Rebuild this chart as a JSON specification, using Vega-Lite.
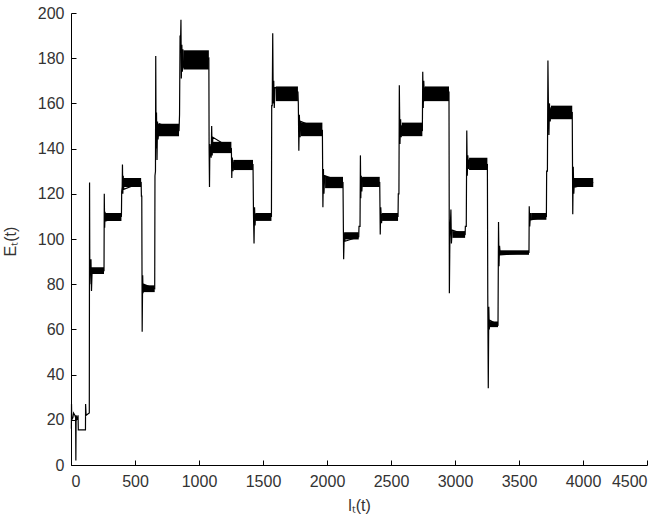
{
  "$schema": "https://vega.github.io/schema/vega-lite/v6.json",
  "width": 576,
  "height": 452,
  "autosize": "none",
  "padding": {"left": 71, "top": 13, "right": 19, "bottom": 58},
  "background": "white",
  "config": {
    "view": {"stroke": null},
    "axis": {
      "grid": false,
      "domainColor": "#000000",
      "tickColor": "#000000",
      "labelColor": "#333333",
      "labelFont": "Liberation Sans",
      "labelFontSize": 16,
      "titleFont": "Liberation Sans",
      "titleFontSize": 16,
      "titleFontWeight": "normal",
      "titleColor": "#333333"
    }
  },
  "datasets": {
    "sig": [
      {"x": 3, "y": 16}, {"x": 4, "y": 27}, {"x": 6, "y": 20}, {"x": 15, "y": 21}, {"x": 20, "y": 23}, {"x": 30, "y": 22}, {"x": 36, "y": 21}, {"x": 38, "y": 2}, {"x": 40, "y": 22}, {"x": 48, "y": 20}, {"x": 55, "y": 22}, {"x": 57, "y": 15.5}, {"x": 113, "y": 15.5}, {"x": 114, "y": 27}, {"x": 118, "y": 22}, {"x": 143, "y": 23},
      {"x": 145, "y": 125}, {"x": 147, "y": 80}, {"x": 150, "y": 88}, {"x": 153, "y": 85}, {"x": 156, "y": 91}, {"x": 160, "y": 77}, {"x": 165, "y": 86}, {"x": 258, "y": 86},
      {"x": 260, "y": 120}, {"x": 263, "y": 105}, {"x": 266, "y": 112}, {"x": 270, "y": 108}, {"x": 394, "y": 110},
      {"x": 396, "y": 121}, {"x": 400, "y": 123}, {"x": 402, "y": 133}, {"x": 405, "y": 120}, {"x": 408, "y": 128}, {"x": 412, "y": 122}, {"x": 548, "y": 125},
      {"x": 550, "y": 119}, {"x": 553, "y": 119}, {"x": 556, "y": 59}, {"x": 560, "y": 84}, {"x": 563, "y": 76}, {"x": 567, "y": 80}, {"x": 654, "y": 78},
      {"x": 656, "y": 128}, {"x": 660, "y": 130}, {"x": 662, "y": 181}, {"x": 665, "y": 140}, {"x": 668, "y": 156}, {"x": 672, "y": 135}, {"x": 676, "y": 152}, {"x": 680, "y": 144}, {"x": 690, "y": 151}, {"x": 844, "y": 148},
      {"x": 848, "y": 155}, {"x": 852, "y": 190}, {"x": 856, "y": 188}, {"x": 859, "y": 197}, {"x": 862, "y": 171}, {"x": 866, "y": 186}, {"x": 870, "y": 174}, {"x": 874, "y": 184}, {"x": 880, "y": 176}, {"x": 1077, "y": 180},
      {"x": 1079, "y": 140}, {"x": 1082, "y": 123}, {"x": 1085, "y": 142}, {"x": 1095, "y": 136}, {"x": 1099, "y": 150}, {"x": 1103, "y": 137}, {"x": 1108, "y": 145}, {"x": 1253, "y": 140},
      {"x": 1256, "y": 127}, {"x": 1260, "y": 136}, {"x": 1266, "y": 130}, {"x": 1272, "y": 134}, {"x": 1422, "y": 133},
      {"x": 1426, "y": 110}, {"x": 1430, "y": 98}, {"x": 1434, "y": 114}, {"x": 1438, "y": 106}, {"x": 1442, "y": 111}, {"x": 1566, "y": 110},
      {"x": 1568, "y": 159}, {"x": 1572, "y": 159}, {"x": 1576, "y": 191}, {"x": 1580, "y": 160}, {"x": 1584, "y": 170}, {"x": 1588, "y": 158}, {"x": 1594, "y": 167}, {"x": 1773, "y": 165},
      {"x": 1776, "y": 160}, {"x": 1780, "y": 139}, {"x": 1784, "y": 155}, {"x": 1790, "y": 145}, {"x": 1795, "y": 152}, {"x": 1964, "y": 148},
      {"x": 1968, "y": 114}, {"x": 1972, "y": 131}, {"x": 1976, "y": 120}, {"x": 1982, "y": 128}, {"x": 2125, "y": 125},
      {"x": 2130, "y": 91}, {"x": 2135, "y": 103}, {"x": 2140, "y": 99}, {"x": 2248, "y": 101}, {"x": 2250, "y": 105.6}, {"x": 2258, "y": 105.6},
      {"x": 2261, "y": 137}, {"x": 2264, "y": 118}, {"x": 2268, "y": 128}, {"x": 2272, "y": 121}, {"x": 2278, "y": 127}, {"x": 2412, "y": 125},
      {"x": 2416, "y": 102}, {"x": 2420, "y": 114}, {"x": 2426, "y": 107}, {"x": 2432, "y": 111}, {"x": 2555, "y": 110},
      {"x": 2557, "y": 120}, {"x": 2562, "y": 120}, {"x": 2565, "y": 168}, {"x": 2570, "y": 142}, {"x": 2575, "y": 153}, {"x": 2580, "y": 145}, {"x": 2586, "y": 150}, {"x": 2745, "y": 148},
      {"x": 2748, "y": 174}, {"x": 2752, "y": 158}, {"x": 2756, "y": 170}, {"x": 2762, "y": 161}, {"x": 2768, "y": 167}, {"x": 2953, "y": 165},
      {"x": 2956, "y": 76}, {"x": 2960, "y": 100}, {"x": 2968, "y": 113}, {"x": 2972, "y": 98}, {"x": 2978, "y": 104}, {"x": 3079, "y": 102}, {"x": 3081, "y": 105.6}, {"x": 3088, "y": 105.6},
      {"x": 3092, "y": 148}, {"x": 3096, "y": 128}, {"x": 3100, "y": 137}, {"x": 3106, "y": 131}, {"x": 3112, "y": 135}, {"x": 3253, "y": 133},
      {"x": 3256, "y": 75}, {"x": 3260, "y": 34}, {"x": 3264, "y": 70}, {"x": 3268, "y": 60}, {"x": 3272, "y": 64}, {"x": 3336, "y": 62},
      {"x": 3340, "y": 107.5}, {"x": 3344, "y": 88}, {"x": 3348, "y": 97}, {"x": 3354, "y": 93}, {"x": 3578, "y": 94},
      {"x": 3580, "y": 114.5}, {"x": 3584, "y": 105.5}, {"x": 3590, "y": 111.5}, {"x": 3596, "y": 108.5}, {"x": 3714, "y": 110},
      {"x": 3716, "y": 130}, {"x": 3722, "y": 130}, {"x": 3726, "y": 179}, {"x": 3730, "y": 158}, {"x": 3734, "y": 146}, {"x": 3738, "y": 160}, {"x": 3744, "y": 152}, {"x": 3750, "y": 158}, {"x": 3916, "y": 156},
      {"x": 3920, "y": 111}, {"x": 3924, "y": 132}, {"x": 3928, "y": 120}, {"x": 3934, "y": 127}, {"x": 3940, "y": 123}, {"x": 4080, "y": 125}
    ],
    "bands": [
      {"x0": 150, "x1": 258, "lo": 84.5, "hi": 87.5},
      {"x0": 266, "x1": 394, "lo": 108, "hi": 111.5},
      {"x0": 408, "x1": 548, "lo": 123, "hi": 127},
      {"x0": 562, "x1": 654, "lo": 76.5, "hi": 79.5},
      {"x0": 680, "x1": 844, "lo": 145.5, "hi": 151},
      {"x0": 878, "x1": 1077, "lo": 175, "hi": 183.5},
      {"x0": 1100, "x1": 1253, "lo": 138, "hi": 143},
      {"x0": 1268, "x1": 1422, "lo": 130.5, "hi": 135},
      {"x0": 1440, "x1": 1566, "lo": 108, "hi": 111.5},
      {"x0": 1600, "x1": 1773, "lo": 161, "hi": 167.5},
      {"x0": 1795, "x1": 1964, "lo": 145.5, "hi": 151.5},
      {"x0": 1985, "x1": 2125, "lo": 122.5, "hi": 127.5},
      {"x0": 2140, "x1": 2248, "lo": 99.8, "hi": 103},
      {"x0": 2275, "x1": 2412, "lo": 123, "hi": 127.5},
      {"x0": 2430, "x1": 2555, "lo": 108, "hi": 111.5},
      {"x0": 2585, "x1": 2745, "lo": 145.5, "hi": 151.5},
      {"x0": 2765, "x1": 2953, "lo": 161, "hi": 167.5},
      {"x0": 2980, "x1": 3079, "lo": 100.5, "hi": 103.5},
      {"x0": 3110, "x1": 3253, "lo": 130.5, "hi": 136},
      {"x0": 3270, "x1": 3336, "lo": 61, "hi": 63.5},
      {"x0": 3350, "x1": 3578, "lo": 93, "hi": 95},
      {"x0": 3595, "x1": 3714, "lo": 108.5, "hi": 111.5},
      {"x0": 3750, "x1": 3916, "lo": 153, "hi": 159},
      {"x0": 3935, "x1": 4080, "lo": 123, "hi": 127}
    ]
  },
  "layer": [
    {
      "data": {"name": "bands"},
      "mark": {"type": "rect", "color": "#000000"},
      "encoding": {
        "x": {"field": "x0", "type": "quantitative", "scale": {"domain": [0, 4500], "nice": false},
          "axis": {"values": [0, 500, 1000, 1500, 2000, 2500, 3000, 3500, 4000, 4500], "format": "d", "tickSize": -5, "labelPadding": 13, "title": "lₜ(t)", "titleX": 288, "titleY": 40, "titleBaseline": "middle"}},
        "x2": {"field": "x1"},
        "y": {"field": "lo", "type": "quantitative", "scale": {"domain": [0, 200], "nice": false},
          "axis": {"values": [0, 20, 40, 60, 80, 100, 120, 140, 160, 180, 200], "format": "d", "tickSize": -5, "labelPadding": 12, "title": "Eₜ(t)", "titleX": -61, "titleY": 228, "titleBaseline": "middle"}},
        "y2": {"field": "hi"}
      }
    },
    {
      "data": {"name": "sig"},
      "mark": {"type": "line", "color": "#000000", "strokeWidth": 1.2},
      "encoding": {
        "x": {"field": "x", "type": "quantitative"},
        "y": {"field": "y", "type": "quantitative"},
        "order": {"value": null}
      }
    }
  ]
}
